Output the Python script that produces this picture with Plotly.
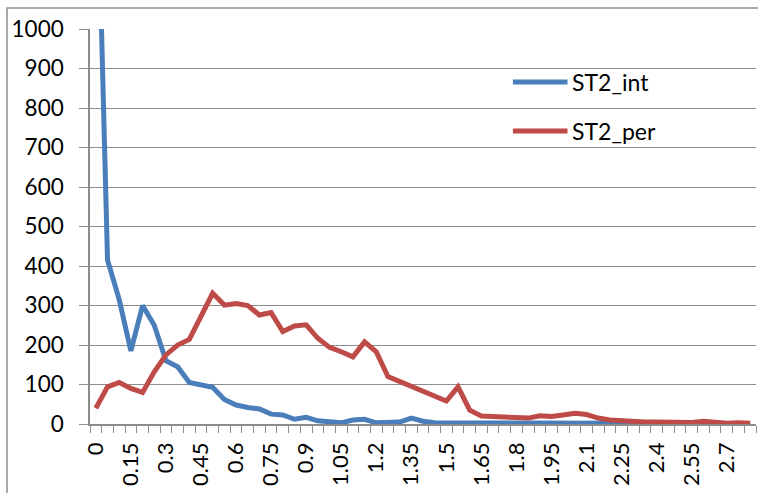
import plotly.graph_objects as go

# Categories 0 .. 2.8 in steps of 0.05
categories = [("%.2f" % (i * 0.05)).rstrip("0").rstrip(".") for i in range(57)]

st2_int = [1550, 415, 315, 185, 300, 250, 160, 145, 105, 100,
           93, 62, 48, 42, 38, 25, 23, 12, 17, 8,
           6, 3, 10, 12, 3, 5, 5, 15, 7, 3,
           3, 3, 1, 2, 3, 3, 4, 4, 3, 2,
           2, 3, 3, 2, 2, 1, 1, 1, 1, 2,
           1, 1, 1, 1, 1, 1, 1]

st2_per = [40, 94, 105, 90, 80, 132, 175, 200, 214, 276,
           331, 301, 305, 300, 276, 282, 234, 248, 251, 217,
           194, 183, 170, 208, 183, 120, 107, 97, 82, 69,
           58, 94, 35, 20, 18, 17, 16, 15, 21, 19,
           23, 27, 24, 15, 10, 8, 4, 5, 5, 4,
           6, 4, 7, 3, 2, 3, 2]

series = [("ST2_int", st2_int, "#4A7EBB"), ("ST2_per", st2_per, "#BE4B48")]

# every third category gets a label
tick_text = [c if i % 3 == 0 else "" for i, c in enumerate(categories)]

FONT = "Lato, Open Sans, sans-serif"
GRID = "#8C8C8C"

fig = go.Figure()
for name, vals, color in series:
    fig.add_trace(go.Scatter(x=categories, y=vals, mode="lines", name=name,
                             line=dict(color=color, width=5),
                             showlegend=False))

# legend drawn as short line samples with labels
for k, (name, vals, color) in enumerate(series):
    ly = 0.866 - k * 0.124
    fig.add_shape(type="line", xref="paper", yref="paper",
                  x0=0.635, x1=0.717, y0=ly, y1=ly,
                  line=dict(color=color, width=5))
    fig.add_annotation(xref="paper", yref="paper", x=0.72, y=ly,
                       text=name, showarrow=False, xanchor="left",
                       yanchor="middle", font=dict(size=23, color="black",
                                                   family=FONT))

# outer chart frame
fig.add_shape(type="rect", xref="paper", yref="paper",
              x0=-0.1246, x1=1.2, y0=-0.4, y1=1.0532,
              line=dict(color="#8E8E8E", width=1.5), layer="below")

fig.update_layout(
    width=758, height=493,
    margin=dict(l=90, r=2, t=29, b=69),
    paper_bgcolor="white", plot_bgcolor="white",
    font=dict(family=FONT, size=22, color="black"),
    xaxis=dict(type="category", range=[-0.5, 56.5],
               tickmode="array", tickvals=categories, ticktext=tick_text,
               tickson="boundaries", ticks="outside", ticklen=7,
               tickcolor=GRID, tickangle=-90, ticklabelstandoff=8,
               showgrid=False, showline=True, linecolor=GRID, linewidth=1.5,
               zeroline=False, tickfont=dict(size=22)),
    yaxis=dict(range=[0, 1000], dtick=100, tick0=0,
               ticks="outside", ticklen=9, tickcolor=GRID,
               showgrid=True, gridcolor=GRID, gridwidth=1.2,
               showline=True, linecolor=GRID, linewidth=1.5,
               zeroline=False, ticklabelstandoff=11,
               tickfont=dict(size=22.5)),
)

fig.write_html("out.html")
